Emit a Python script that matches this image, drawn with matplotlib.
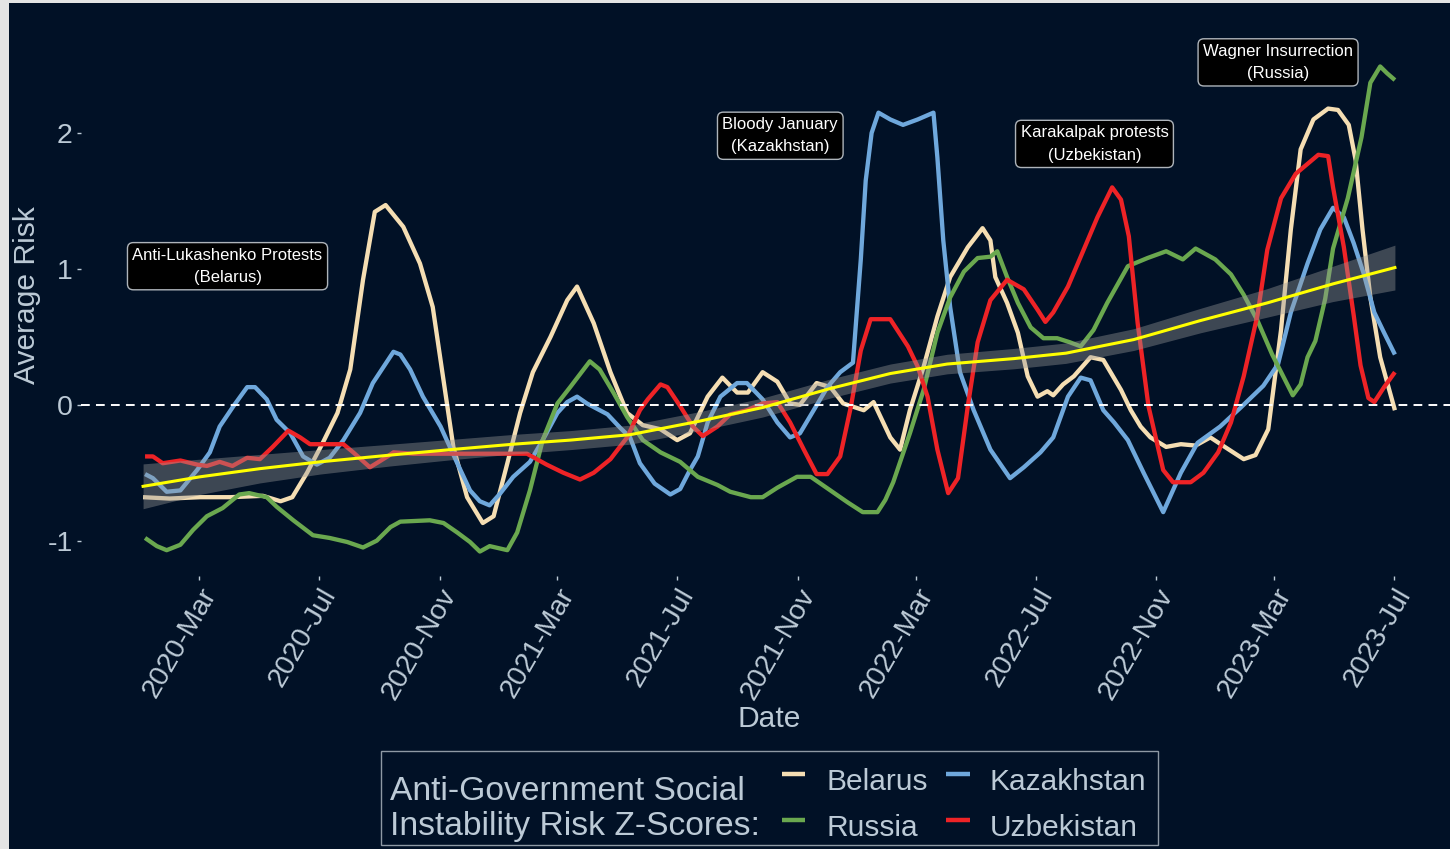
import matplotlib
matplotlib.use("Agg")
import matplotlib.pyplot as plt
import matplotlib.dates as mdates
from matplotlib.patches import Rectangle
from matplotlib.lines import Line2D
import pandas as pd
import numpy as np

plt.rcParams['font.family'] = ['Liberation Sans', 'DejaVu Sans']
plt.rcParams['axes.unicode_minus'] = False

# ---------------- data ----------------
belarus_dates = ["2020-01-04", "2020-01-31", "2020-03-02", "2020-04-02", "2020-05-05", "2020-05-23",
                 "2020-06-04", "2020-06-19", "2020-07-05", "2020-07-20", "2020-08-02", "2020-08-15",
                 "2020-08-27", "2020-09-07", "2020-09-25", "2020-10-12", "2020-10-25", "2020-11-05",
                 "2020-11-15", "2020-11-29", "2020-12-15", "2020-12-26", "2021-01-09", "2021-01-22",
                 "2021-02-04", "2021-02-22", "2021-03-11", "2021-03-21", "2021-04-07", "2021-04-24",
                 "2021-05-11", "2021-05-27", "2021-06-14", "2021-07-01", "2021-07-14", "2021-08-01",
                 "2021-08-16", "2021-08-31", "2021-09-11", "2021-09-26", "2021-10-11", "2021-10-24",
                 "2021-11-03", "2021-11-20", "2021-12-04", "2021-12-17", "2022-01-07", "2022-01-17",
                 "2022-02-03", "2022-02-13", "2022-02-23", "2022-03-09", "2022-03-23", "2022-04-05",
                 "2022-04-23", "2022-05-08", "2022-05-16", "2022-05-21", "2022-06-02", "2022-06-13",
                 "2022-06-23", "2022-07-03", "2022-07-13", "2022-07-19", "2022-07-29", "2022-08-09",
                 "2022-08-26", "2022-09-08", "2022-09-26", "2022-10-06", "2022-10-16", "2022-10-26",
                 "2022-11-11", "2022-11-26", "2022-12-11", "2022-12-26", "2023-01-14", "2023-01-29",
                 "2023-02-10", "2023-02-23", "2023-03-08", "2023-03-18", "2023-03-28", "2023-04-10",
                 "2023-04-25", "2023-05-05", "2023-05-16", "2023-05-23", "2023-05-30", "2023-06-07",
                 "2023-06-17", "2023-07-02"]
belarus_values = [-0.68, -0.69, -0.68, -0.68, -0.67, -0.71,
                  -0.68, -0.50, -0.28, -0.06, 0.26, 0.92,
                  1.42, 1.47, 1.31, 1.04, 0.72, 0.18,
                  -0.31, -0.68, -0.87, -0.82, -0.43, -0.06,
                  0.24, 0.50, 0.77, 0.87, 0.60, 0.24,
                  -0.06, -0.15, -0.18, -0.26, -0.21, 0.06,
                  0.20, 0.09, 0.09, 0.24, 0.17, 0.01,
                  0.00, 0.16, 0.13, 0.01, -0.04, 0.02,
                  -0.24, -0.33, -0.04, 0.28, 0.65, 0.94,
                  1.16, 1.30, 1.21, 0.94, 0.75, 0.53,
                  0.21, 0.06, 0.10, 0.07, 0.15, 0.21,
                  0.35, 0.33, 0.11, -0.04, -0.16, -0.24,
                  -0.31, -0.29, -0.30, -0.24, -0.33, -0.40,
                  -0.37, -0.18, 0.55, 1.29, 1.88, 2.10,
                  2.18, 2.17, 2.06, 1.80, 1.29, 0.79,
                  0.35, -0.04]

kazakhstan_dates = ["2020-01-06", "2020-01-14", "2020-01-28", "2020-02-11", "2020-02-28", "2020-03-12",
                    "2020-03-22", "2020-04-05", "2020-04-19", "2020-04-27", "2020-05-09", "2020-05-19",
                    "2020-06-02", "2020-06-15", "2020-06-29", "2020-07-12", "2020-07-26", "2020-08-12",
                    "2020-08-25", "2020-09-15", "2020-09-22", "2020-10-02", "2020-10-15", "2020-11-02",
                    "2020-11-19", "2020-12-02", "2020-12-12", "2020-12-22", "2021-01-02", "2021-01-15",
                    "2021-02-01", "2021-02-14", "2021-03-01", "2021-03-11", "2021-03-21", "2021-03-31",
                    "2021-04-21", "2021-05-04", "2021-05-14", "2021-05-24", "2021-06-08", "2021-06-24",
                    "2021-07-04", "2021-07-14", "2021-07-22", "2021-08-01", "2021-08-14", "2021-08-31",
                    "2021-09-10", "2021-09-26", "2021-10-11", "2021-10-24", "2021-11-03", "2021-11-17",
                    "2021-12-01", "2021-12-14", "2021-12-27", "2022-01-04", "2022-01-09", "2022-01-15",
                    "2022-01-22", "2022-02-03", "2022-02-16", "2022-03-03", "2022-03-19", "2022-03-23",
                    "2022-03-29", "2022-04-05", "2022-04-15", "2022-04-29", "2022-05-16", "2022-06-05",
                    "2022-06-19", "2022-07-06", "2022-07-19", "2022-08-03", "2022-08-16", "2022-08-26",
                    "2022-09-08", "2022-09-19", "2022-10-03", "2022-10-19", "2022-11-08", "2022-11-26",
                    "2022-12-13", "2023-01-05", "2023-01-26", "2023-02-18", "2023-03-05", "2023-03-18",
                    "2023-04-04", "2023-04-17", "2023-04-30", "2023-05-11", "2023-05-21", "2023-05-31",
                    "2023-06-11", "2023-06-21", "2023-07-02"]
kazakhstan_values = [-0.51, -0.54, -0.64, -0.63, -0.48, -0.35,
                     -0.16, -0.01, 0.13, 0.13, 0.04, -0.11,
                     -0.21, -0.38, -0.44, -0.39, -0.26, -0.06,
                     0.16, 0.39, 0.37, 0.26, 0.06, -0.16,
                     -0.43, -0.63, -0.71, -0.74, -0.65, -0.53,
                     -0.42, -0.26, -0.06, 0.02, 0.06, 0.01,
                     -0.07, -0.17, -0.24, -0.43, -0.58, -0.66,
                     -0.62, -0.48, -0.38, -0.13, 0.06, 0.16,
                     0.16, 0.04, -0.13, -0.24, -0.21, -0.04,
                     0.13, 0.24, 0.31, 1.07, 1.65, 2.00,
                     2.15, 2.10, 2.06, 2.10, 2.15, 1.82,
                     1.21, 0.72, 0.24, -0.04, -0.33, -0.54,
                     -0.46, -0.35, -0.24, 0.06, 0.20, 0.18,
                     -0.04, -0.13, -0.26, -0.50, -0.79, -0.50,
                     -0.28, -0.16, -0.02, 0.14, 0.30, 0.68,
                     1.04, 1.29, 1.45, 1.38, 1.19, 0.97,
                     0.68, 0.53, 0.37]

russia_dates = ["2020-01-06", "2020-01-18", "2020-01-28", "2020-02-11", "2020-02-24", "2020-03-09",
                "2020-03-25", "2020-04-11", "2020-04-21", "2020-05-09", "2020-05-19", "2020-06-05",
                "2020-06-25", "2020-07-12", "2020-07-30", "2020-08-15", "2020-08-29", "2020-09-12",
                "2020-09-22", "2020-10-22", "2020-11-05", "2020-11-19", "2020-12-02", "2020-12-12",
                "2020-12-22", "2021-01-09", "2021-01-19", "2021-02-01", "2021-02-14", "2021-03-01",
                "2021-03-14", "2021-04-03", "2021-04-13", "2021-04-27", "2021-05-11", "2021-05-27",
                "2021-06-14", "2021-07-04", "2021-07-22", "2021-08-11", "2021-08-24", "2021-09-14",
                "2021-09-26", "2021-10-11", "2021-10-31", "2021-11-14", "2021-12-04", "2021-12-22",
                "2022-01-06", "2022-01-21", "2022-01-29", "2022-02-06", "2022-02-23", "2022-03-09",
                "2022-03-23", "2022-04-05", "2022-04-19", "2022-05-03", "2022-05-16", "2022-05-23",
                "2022-06-02", "2022-06-13", "2022-06-26", "2022-07-09", "2022-07-23", "2022-08-05",
                "2022-08-16", "2022-08-29", "2022-09-12", "2022-10-03", "2022-10-23", "2022-11-11",
                "2022-11-28", "2022-12-11", "2022-12-31", "2023-01-16", "2023-01-29", "2023-02-12",
                "2023-02-27", "2023-03-20", "2023-03-28", "2023-04-04", "2023-04-12", "2023-04-22",
                "2023-04-30", "2023-05-15", "2023-05-29", "2023-06-07", "2023-06-17", "2023-06-24",
                "2023-07-02"]
russia_values = [-0.98, -1.04, -1.07, -1.03, -0.92, -0.82,
                 -0.76, -0.66, -0.65, -0.68, -0.75, -0.85,
                 -0.96, -0.98, -1.01, -1.05, -1.00, -0.90,
                 -0.86, -0.85, -0.87, -0.94, -1.01, -1.08,
                 -1.04, -1.07, -0.94, -0.63, -0.26, 0.01,
                 0.13, 0.32, 0.26, 0.09, -0.09, -0.26,
                 -0.35, -0.42, -0.53, -0.59, -0.64, -0.68,
                 -0.68, -0.61, -0.53, -0.53, -0.63, -0.72,
                 -0.79, -0.79, -0.70, -0.57, -0.21, 0.11,
                 0.53, 0.79, 0.98, 1.08, 1.09, 1.13,
                 0.94, 0.75, 0.57, 0.49, 0.49, 0.46,
                 0.43, 0.55, 0.75, 1.02, 1.08, 1.13,
                 1.07, 1.15, 1.07, 0.96, 0.81, 0.62,
                 0.37, 0.07, 0.15, 0.35, 0.47, 0.78,
                 1.15, 1.52, 1.97, 2.37, 2.49, 2.44,
                 2.39]

uzbekistan_dates = ["2020-01-06", "2020-01-14", "2020-01-24", "2020-02-11", "2020-02-28", "2020-03-09",
                    "2020-03-22", "2020-04-04", "2020-04-19", "2020-05-02", "2020-05-15", "2020-05-31",
                    "2020-06-12", "2020-06-22", "2020-07-12", "2020-07-26", "2020-08-05", "2020-08-22",
                    "2020-09-09", "2020-09-15", "2020-10-05", "2021-01-29", "2021-02-18", "2021-03-07",
                    "2021-03-24", "2021-04-07", "2021-04-24", "2021-05-11", "2021-05-24", "2021-06-01",
                    "2021-06-14", "2021-06-21", "2021-07-04", "2021-07-17", "2021-07-27", "2021-08-11",
                    "2021-08-24", "2021-09-10", "2021-09-26", "2021-10-11", "2021-10-24", "2021-11-07",
                    "2021-11-20", "2021-12-01", "2021-12-14", "2021-12-25", "2022-01-04", "2022-01-14",
                    "2022-01-27", "2022-02-03", "2022-02-21", "2022-03-03", "2022-03-13", "2022-03-23",
                    "2022-04-03", "2022-04-13", "2022-04-23", "2022-05-03", "2022-05-16", "2022-06-02",
                    "2022-06-19", "2022-07-03", "2022-07-11", "2022-07-19", "2022-08-03", "2022-08-16",
                    "2022-09-02", "2022-09-17", "2022-09-26", "2022-10-04", "2022-10-13", "2022-10-24",
                    "2022-11-08", "2022-11-18", "2022-12-06", "2022-12-19", "2023-01-03", "2023-01-16",
                    "2023-01-29", "2023-02-12", "2023-02-22", "2023-03-08", "2023-03-23", "2023-04-15",
                    "2023-04-25", "2023-04-30", "2023-05-11", "2023-05-21", "2023-05-28", "2023-06-05",
                    "2023-06-11", "2023-06-21", "2023-07-02"]
uzbekistan_values = [-0.38, -0.38, -0.43, -0.41, -0.44, -0.45,
                     -0.42, -0.45, -0.39, -0.40, -0.31, -0.19,
                     -0.24, -0.29, -0.29, -0.29, -0.35, -0.46,
                     -0.38, -0.35, -0.36, -0.36, -0.44, -0.50,
                     -0.55, -0.50, -0.40, -0.24, -0.04, 0.04,
                     0.15, 0.13, -0.01, -0.16, -0.23, -0.16,
                     -0.07, -0.04, 0.01, 0.02, -0.13, -0.33,
                     -0.51, -0.51, -0.38, -0.01, 0.40, 0.63,
                     0.63, 0.63, 0.43, 0.28, 0.06, -0.33,
                     -0.65, -0.54, -0.01, 0.46, 0.77, 0.92,
                     0.85, 0.70, 0.61, 0.68, 0.87, 1.09,
                     1.38, 1.60, 1.51, 1.24, 0.60, -0.01,
                     -0.48, -0.57, -0.57, -0.50, -0.35, -0.13,
                     0.21, 0.66, 1.14, 1.52, 1.70, 1.84,
                     1.83, 1.60, 1.16, 0.66, 0.29, 0.05,
                     0.02, 0.13, 0.24]

smooth_dates = ["2020-01-04", "2020-03-02", "2020-05-02", "2020-07-02", "2020-09-12", "2020-11-12",
                "2021-01-15", "2021-03-14", "2021-05-14", "2021-07-24", "2021-09-26", "2021-12-04",
                "2022-02-03", "2022-04-02", "2022-06-09", "2022-08-01", "2022-10-09", "2022-12-16",
                "2023-02-22", "2023-04-30", "2023-07-02"]
smooth_values = [-0.60, -0.53, -0.47, -0.42, -0.37, -0.33,
                 -0.29, -0.26, -0.22, -0.12, -0.02, 0.12,
                 0.23, 0.30, 0.34, 0.38, 0.48, 0.62,
                 0.75, 0.89, 1.01]
smooth_halfwidth = [0.165, 0.13, 0.105, 0.09, 0.08, 0.075,
                    0.072, 0.07, 0.07, 0.07, 0.07, 0.07,
                    0.07, 0.072, 0.075, 0.075, 0.08, 0.09,
                    0.105, 0.13, 0.165]

series_names = ["Belarus", "Kazakhstan", "Russia", "Uzbekistan"]
series_colors = ["#F5DEB3", "#6FA8DC", "#6AA84F", "#EE2326"]
series_dates = [belarus_dates, kazakhstan_dates, russia_dates, uzbekistan_dates]
series_values = [belarus_values, kazakhstan_values, russia_values, uzbekistan_values]

annotation_texts = ["Anti-Lukashenko Protests\n(Belarus)", "Bloody January\n(Kazakhstan)",
                    "Karakalpak protests\n(Uzbekistan)", "Wagner Insurrection\n(Russia)"]
annotation_dates = ["2020-03-30", "2021-10-14", "2022-08-30", "2023-03-05"]
annotation_values = [1.02, 1.98, 1.92, 2.52]

x_tick_dates = pd.date_range("2020-03-01", "2023-07-01", freq="4MS")
y_ticks = [-1, 0, 1, 2]
y_tick_labels = ["-1", "0", "1", "2"]

legend_title = ["Anti-Government Social", "Instability Risk Z-Scores:"]

# ---------------- styling ----------------
W, H = 1450, 849
BG = "#011126"
TC = "#BCCAD6"

fig = plt.figure(figsize=(W / 100, H / 100), dpi=100, facecolor="#e4e4e4")
fig.patches.append(Rectangle((9 / W, 0), 1 - 9 / W, 1 - 3 / H, transform=fig.transFigure,
                             facecolor=BG, edgecolor="none", zorder=-10))

def fx(px):
    return px / W

def fy(py):
    return 1 - py / H

ax = fig.add_axes([fx(80.5), fy(576), (1457.5 - 80.5) / W, (576 - 42) / H])
ax.set_facecolor(BG)
for s in ax.spines.values():
    s.set_visible(False)

all_dates = pd.to_datetime(sum(series_dates, []))
dmin, dmax = all_dates.min(), all_dates.max()
span = dmax - dmin
ax.set_xlim(dmin - span * 0.05, dmax + span * 0.05)
ax.set_ylim(-1.26, 2.67)

for name, col, d, v in zip(series_names, series_colors, series_dates, series_values):
    ax.plot(pd.to_datetime(d), v, color=col, lw=3.1, solid_joinstyle="round",
            solid_capstyle="butt", zorder=2)

ax.axhline(0, color="white", lw=1.4, ls=(0, (4.5, 3.2)), zorder=2.5)

sd = pd.to_datetime(smooth_dates)
sv = np.array(smooth_values)
se = np.array(smooth_halfwidth)
ax.fill_between(sd, sv - se, sv + se, color="#999999", alpha=0.4, lw=0, zorder=3)
ax.plot(sd, sv, color="#FFFF00", lw=2.2, zorder=4)

for t, d, v in zip(annotation_texts, annotation_dates, annotation_values):
    ax.text(pd.Timestamp(d), v, t, ha="center", va="center", fontsize=12, color="white",
            linespacing=1.6, zorder=6,
            bbox=dict(boxstyle="round,pad=0.3,rounding_size=0.35", fc="black",
                      ec="#AEB4BA", lw=1.0))

ax.set_xticks(x_tick_dates)
ax.xaxis.set_major_formatter(mdates.DateFormatter("%Y-%b"))
ax.tick_params(axis="x", colors=TC, labelsize=20.5, length=3, width=1, pad=2.5)
for lbl in ax.get_xticklabels():
    lbl.set_rotation(60)
    lbl.set_ha("right")
    lbl.set_va("top")
    lbl.set_rotation_mode("anchor")

ax.set_yticks(y_ticks)
ax.set_yticklabels(y_tick_labels)
ax.tick_params(axis="y", colors=TC, labelsize=20.5, length=3, width=1, pad=2.5)

fig.text(fx(769), fy(727), "Date", fontsize=21.6, color=TC, ha="center", va="baseline")
fig.text(fx(27.5), fy(295), "Average Risk", fontsize=21.6, color=TC, ha="center",
         va="center", rotation=90)

# legend (manual, ggplot-like bottom legend)
fig.patches.append(Rectangle((fx(381), fy(845)), (1158 - 381) / W, (845 - 751) / H,
                             transform=fig.transFigure, facecolor=BG, edgecolor="#8E99A4",
                             lw=1.0, zorder=5))
fig.text(fx(390), fy(800), legend_title[0], fontsize=24.2, color=TC, ha="left",
         va="baseline", zorder=6)
fig.text(fx(390), fy(835), legend_title[1], fontsize=24.2, color=TC, ha="left",
         va="baseline", zorder=6)

key_x = [(782, 805), (782, 805), (946, 970), (946, 970)]
key_y = [774, 820, 774, 820]
lab_x = [826, 826, 990, 990]
lab_y = [790, 836, 790, 836]
order = [0, 2, 1, 3]  # Belarus, Russia | Kazakhstan, Uzbekistan
for slot, idx in enumerate(order):
    x0, x1 = key_x[slot]
    fig.lines.append(Line2D([fx(x0), fx(x1)], [fy(key_y[slot])] * 2, transform=fig.transFigure,
                            color=series_colors[idx], lw=3.2, solid_capstyle="butt", zorder=6))
    fig.text(fx(lab_x[slot]), fy(lab_y[slot]), series_names[idx], fontsize=21.5, color=TC,
             ha="left", va="baseline", zorder=6)

fig.savefig("out.png", dpi=100, facecolor=fig.get_facecolor())
